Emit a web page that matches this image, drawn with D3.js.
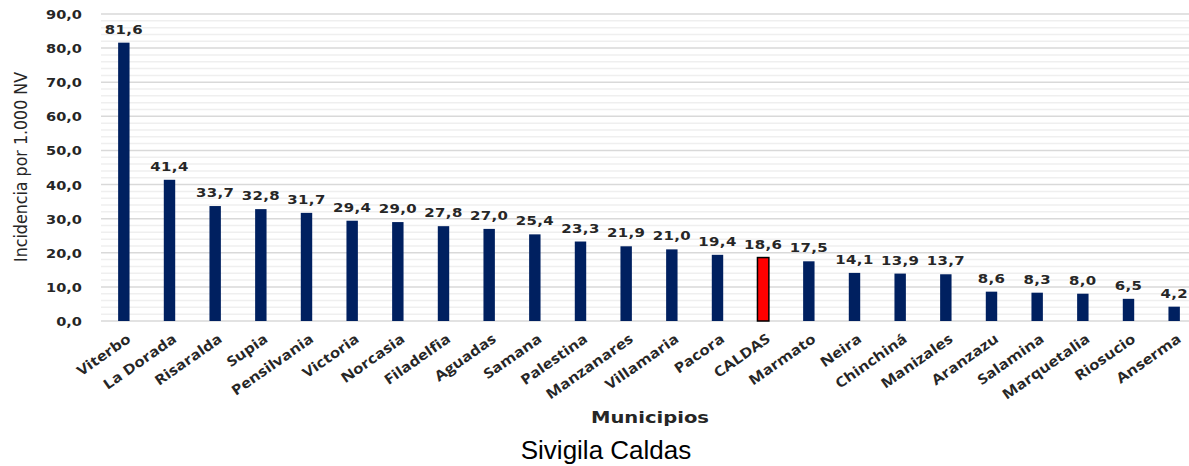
<!DOCTYPE html>
<html>
<head>
<meta charset="utf-8">
<script src="https://cdn.jsdelivr.net/npm/d3@7"></script>
<style>
  body { margin: 0; background: #fff; }
  svg { display: block; }
</style>
</head>
<body>
<div id="graph"></div>
<script>
// municipios e incidencia por 1.000 NV
var municipios = ['Viterbo', 'La Dorada', 'Risaralda', 'Supia', 'Pensilvania', 'Victoria', 'Norcasia',
  'Filadelfia', 'Aguadas', 'Samana', 'Palestina', 'Manzanares', 'Villamaria', 'Pacora', 'CALDAS',
  'Marmato', 'Neira', 'Chinchiná', 'Manizales', 'Aranzazu', 'Salamina', 'Marquetalia', 'Riosucio', 'Anserma'];
var incidencia = [81.6, 41.4, 33.7, 32.8, 31.7, 29.4, 29.0, 27.8, 27.0, 25.4, 23.3, 21.9, 21.0, 19.4, 18.6,
  17.5, 14.1, 13.9, 13.7, 8.6, 8.3, 8.0, 6.5, 4.2];
var yTicks = [0, 10, 20, 30, 40, 50, 60, 70, 80, 90];
var resaltado = 'CALDAS';

var width = 1189, height = 466;
var margin = {top: 14, right: -8, bottom: 145, left: 101};

var svg = d3.select('#graph').append('svg')
    .attr('width', width)
    .attr('height', height);

var x = d3.scaleBand()
    .domain(municipios)
    .range([margin.left, width - margin.right])
    .paddingInner(0.75)
    .paddingOuter(0.375);

var y = d3.scaleLinear()
    .domain([0, 90])
    .range([height - margin.bottom, margin.top]);

var comma = function(v) { return d3.format('.1f')(v).replace('.', ','); };

// minor gridlines every 2
svg.append('g')
    .selectAll('line')
    .data(d3.range(0, 91, 2).filter(function(v) { return v % 10 !== 0; }))
  .enter().append('line')
    .attr('x1', margin.left).attr('x2', width)
    .attr('y1', function(d) { return y(d); }).attr('y2', function(d) { return y(d); })
    .attr('stroke', '#efefef')
    .attr('stroke-width', 1.5);

// major gridlines
svg.append('g')
    .selectAll('line')
    .data(yTicks)
  .enter().append('line')
    .attr('x1', margin.left).attr('x2', width)
    .attr('y1', function(d) { return y(d); }).attr('y2', function(d) { return y(d); })
    .attr('stroke', '#d9d9d9')
    .attr('stroke-width', 1.5);

// y axis labels (a bit stretched, like the original)
svg.append('g')
    .selectAll('text')
    .data(yTicks)
  .enter().append('text')
    .attr('transform', function(d) { return 'translate(82,' + (y(d) + 5) + ') scale(1.12,1)'; })
    .attr('text-anchor', 'end')
    .attr('font-family', 'DejaVu Sans')
    .attr('font-weight', 'bold')
    .attr('font-size', 13)
    .attr('fill', '#262626')
    .text(comma);

// bars
svg.append('g')
    .selectAll('rect')
    .data(municipios)
  .enter().append('rect')
    .attr('x', function(d) { return x(d); })
    .attr('y', function(d, i) { return y(incidencia[i]); })
    .attr('width', x.bandwidth())
    .attr('height', function(d, i) { return y(0) - y(incidencia[i]); })
    .attr('fill', function(d) { return d === resaltado ? '#ff0000' : '#002060'; })
    .attr('stroke', function(d) { return d === resaltado ? '#000' : 'none'; })
    .attr('stroke-width', 1.5);

// value labels
svg.append('g')
    .selectAll('text')
    .data(municipios)
  .enter().append('text')
    .attr('transform', function(d, i) {
      return 'translate(' + (x(d) + x.bandwidth() / 2) + ',' + (y(incidencia[i]) - 9) + ') scale(1.15,1)';
    })
    .attr('text-anchor', 'middle')
    .attr('font-family', 'DejaVu Sans')
    .attr('font-weight', 'bold')
    .attr('font-size', 13)
    .attr('letter-spacing', 0.3)
    .attr('fill', '#262626')
    .text(function(d, i) { return comma(incidencia[i]); });

// x labels
svg.append('g')
    .selectAll('text')
    .data(municipios)
  .enter().append('text')
    .attr('transform', function(d) {
      return 'translate(' + (x(d) + x.bandwidth() / 2 + 8) + ',' + (y(0) + 20) + ') rotate(-35) scale(1.2,1)';
    })
    .attr('text-anchor', 'end')
    .attr('font-family', 'Open Sans')
    .attr('font-weight', 'bold')
    .attr('font-size', 14)
    .attr('fill', '#262626')
    .text(function(d) { return d; });

// axis titles
svg.append('text')
    .attr('transform', 'translate(27,167) rotate(-90)')
    .attr('text-anchor', 'middle')
    .attr('font-family', 'DejaVu Sans Condensed')
    .attr('font-size', 17)
    .attr('textLength', 190)
    .attr('lengthAdjust', 'spacingAndGlyphs')
    .attr('fill', '#262626')
    .text('Incidencia por 1.000 NV');

svg.append('text')
    .attr('x', 650)
    .attr('y', 423)
    .attr('text-anchor', 'middle')
    .attr('font-family', 'DejaVu Sans')
    .attr('font-weight', 'bold')
    .attr('font-size', 16)
    .attr('textLength', 118)
    .attr('lengthAdjust', 'spacingAndGlyphs')
    .attr('fill', '#262626')
    .text('Municipios');

svg.append('text')
    .attr('x', 606)
    .attr('y', 459)
    .attr('text-anchor', 'middle')
    .attr('font-family', 'Liberation Sans')
    .attr('font-size', 26)
    .attr('fill', '#000')
    .text('Sivigila Caldas');
</script>
</body>
</html>
